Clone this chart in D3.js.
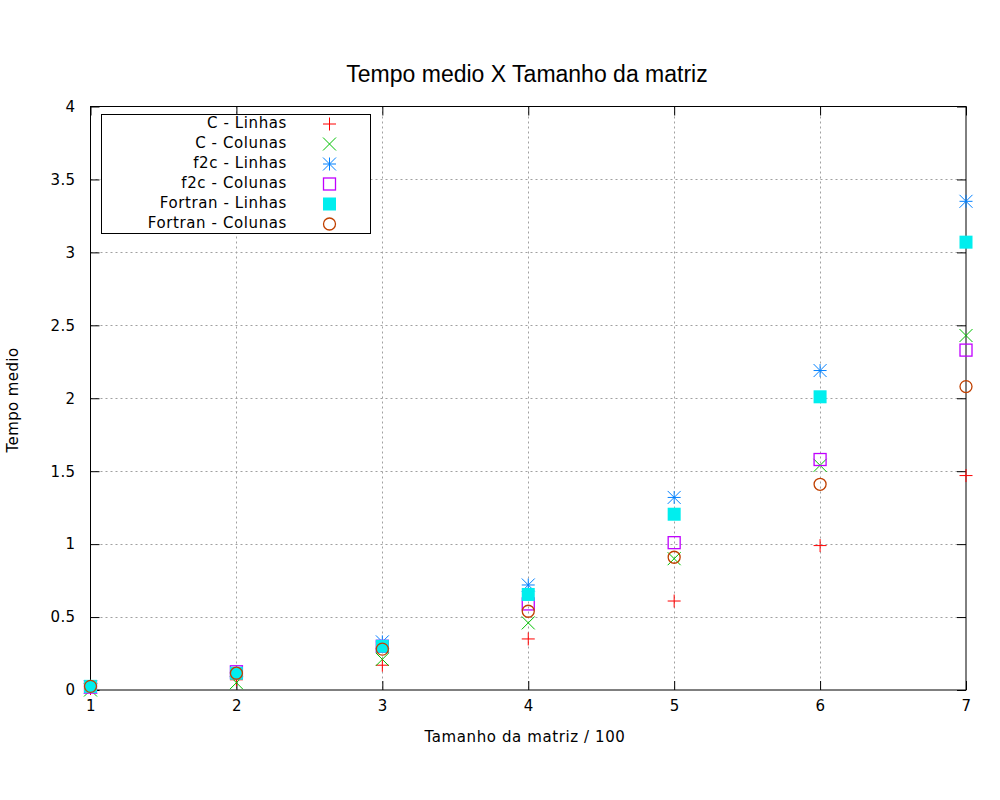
<!DOCTYPE html>
<html><head><meta charset="utf-8">
<script src="https://cdn.jsdelivr.net/npm/d3@7/dist/d3.min.js"></script>
<style>
html,body{margin:0;padding:0;background:#fff;}
text{font-family:"DejaVu Sans",sans-serif;}
</style></head>
<body>
<svg id="chart" width="1000" height="800"></svg>
<script>
const xValues = [1, 2, 3, 4, 5, 6, 7];
const xTicks = [1, 2, 3, 4, 5, 6, 7];
const yTicks = [0, 0.5, 1, 1.5, 2, 2.5, 3, 3.5, 4];
const cLinhas = [0.01, 0.07, 0.17, 0.35, 0.61, 0.99, 1.47];
const cColunas = [0.0, 0.05, 0.21, 0.46, 0.90, 1.54, 2.43];
const f2cLinhas = [0.02, 0.12, 0.33, 0.72, 1.32, 2.19, 3.35];
const f2cColunas = [0.02, 0.125, 0.30, 0.59, 1.01, 1.58, 2.33];
const fortranLinhas = [0.025, 0.115, 0.30, 0.655, 1.205, 2.01, 3.07];
const fortranColunas = [0.025, 0.115, 0.28, 0.54, 0.91, 1.41, 2.08];
const seriesNames = ["C - Linhas", "C - Colunas", "f2c - Linhas", "f2c - Colunas", "Fortran - Linhas", "Fortran - Colunas"];
const seriesColors = ["#ff0000", "#00c000", "#0080ff", "#c000ff", "#00eeee", "#c04000"];
const seriesShapes = ["plus", "cross", "star", "square", "fsquare", "circle"];
const seriesValues = [cLinhas, cColunas, f2cLinhas, f2cColunas, fortranLinhas, fortranColunas];

const svg = d3.select("#chart");
const L = 90.5, R = 966, T = 106.5, B = 690;
const x = d3.scaleLinear().domain([1, 7]).range([L, R]);
const y = d3.scaleLinear().domain([0, 4]).range([B, T]);

// grid
const grid = svg.append("g").attr("stroke", "#a0a0a0").attr("stroke-width", 1).attr("stroke-dasharray", "2,3");
grid.selectAll("line.gy").data(yTicks.filter(t => t > 0 && t < 4)).enter().append("line")
  .attr("x1", L).attr("x2", R).attr("y1", d => Math.round(y(d)) + 0.5).attr("y2", d => Math.round(y(d)) + 0.5);
grid.selectAll("line.gx").data(xTicks.filter(t => t > 1 && t < 7)).enter().append("line")
  .attr("y1", T).attr("y2", B).attr("x1", d => Math.round(x(d)) + 0.5).attr("x2", d => Math.round(x(d)) + 0.5);

// axes with inward ticks
const fmt = d3.format("");
function styleAxis(g) {
  g.select(".domain").remove();
  g.selectAll(".tick line").attr("stroke", "#000");
  g.selectAll(".tick text").attr("fill", "#000").style("font-size", "15px")
    .style("font-family", "DejaVu Sans").style("letter-spacing", "0.4px");
}
svg.append("g").attr("transform", `translate(${L},0)`)
  .call(d3.axisLeft(y).tickValues(yTicks).tickFormat(fmt).tickSizeInner(-9).tickSizeOuter(0).tickPadding(15))
  .call(styleAxis);
svg.append("g").attr("transform", `translate(${R},0)`)
  .call(d3.axisRight(y).tickValues(yTicks).tickFormat("").tickSizeInner(-9).tickSizeOuter(0))
  .call(styleAxis);
svg.append("g").attr("transform", `translate(0,${B})`)
  .call(d3.axisBottom(x).tickValues(xTicks).tickFormat(fmt).tickSizeInner(-9).tickSizeOuter(0).tickPadding(10))
  .call(styleAxis);
svg.append("g").attr("transform", `translate(0,${T})`)
  .call(d3.axisTop(x).tickValues(xTicks).tickFormat("").tickSizeInner(-9).tickSizeOuter(0))
  .call(styleAxis);

// border
svg.append("rect").attr("x", L).attr("y", T).attr("width", R - L).attr("height", B - T)
  .attr("fill", "none").attr("stroke", "#000").attr("stroke-width", 1);

// marker drawing
const s = 6.5;
function drawMarker(g, shape, color, cx, cy) {
  if (shape === "plus" || shape === "star") {
    g.append("path").attr("d", `M${cx - s},${cy}H${cx + s}M${cx},${cy - s}V${cy + s}`)
      .attr("stroke", color).attr("stroke-width", 1).attr("fill", "none");
  }
  if (shape === "cross" || shape === "star") {
    g.append("path").attr("d", `M${cx - s},${cy - s}L${cx + s},${cy + s}M${cx - s},${cy + s}L${cx + s},${cy - s}`)
      .attr("stroke", color).attr("stroke-width", 1).attr("fill", "none");
  }
  if (shape === "square") {
    g.append("rect").attr("x", cx - s + 0.5).attr("y", cy - s + 0.5).attr("width", 2 * s - 1).attr("height", 2 * s - 1)
      .attr("stroke", color).attr("stroke-width", 1.3).attr("fill", "none");
  }
  if (shape === "fsquare") {
    g.append("rect").attr("x", cx - s).attr("y", cy - s).attr("width", 2 * s).attr("height", 2 * s)
      .attr("fill", color);
  }
  if (shape === "circle") {
    g.append("circle").attr("cx", cx).attr("cy", cy).attr("r", 6)
      .attr("stroke", color).attr("stroke-width", 1.3).attr("fill", "none");
  }
}

// points
seriesValues.forEach((vals, i) => {
  const g = svg.append("g").attr("class", "series-" + i);
  vals.forEach((v, j) => drawMarker(g, seriesShapes[i], seriesColors[i], x(xValues[j]), y(v)));
});

// legend
const lg = svg.append("g");
lg.append("rect").attr("x", 101.5).attr("y", 114.5).attr("width", 269).attr("height", 119)
  .attr("fill", "#fff").attr("stroke", "#000").attr("stroke-width", 1);
seriesNames.forEach((name, i) => {
  const cy = 124 + 20 * i;
  lg.append("text").attr("x", 287).attr("y", cy + 4).attr("text-anchor", "end")
    .style("font-size", "15px").style("letter-spacing", "0.6px").attr("fill", "#000").text(name);
  drawMarker(lg, seriesShapes[i], seriesColors[i], 329.5, cy);
});

// title and axis labels
svg.append("text").attr("x", 527).attr("y", 82).attr("text-anchor", "middle")
  .style("font-family", "Liberation Sans, Arial, sans-serif").style("font-size", "23px").attr("fill", "#000")
  .text("Tempo medio X Tamanho da matriz");
svg.append("text").attr("x", 525).attr("y", 742).attr("text-anchor", "middle")
  .style("font-size", "15px").style("letter-spacing", "0.6px").attr("fill", "#000").text("Tamanho da matriz / 100");
svg.append("text").attr("transform", "translate(18,400) rotate(-90)").attr("text-anchor", "middle")
  .style("font-size", "15px").style("letter-spacing", "0.4px").attr("fill", "#000").text("Tempo medio");
</script>
</body></html>
